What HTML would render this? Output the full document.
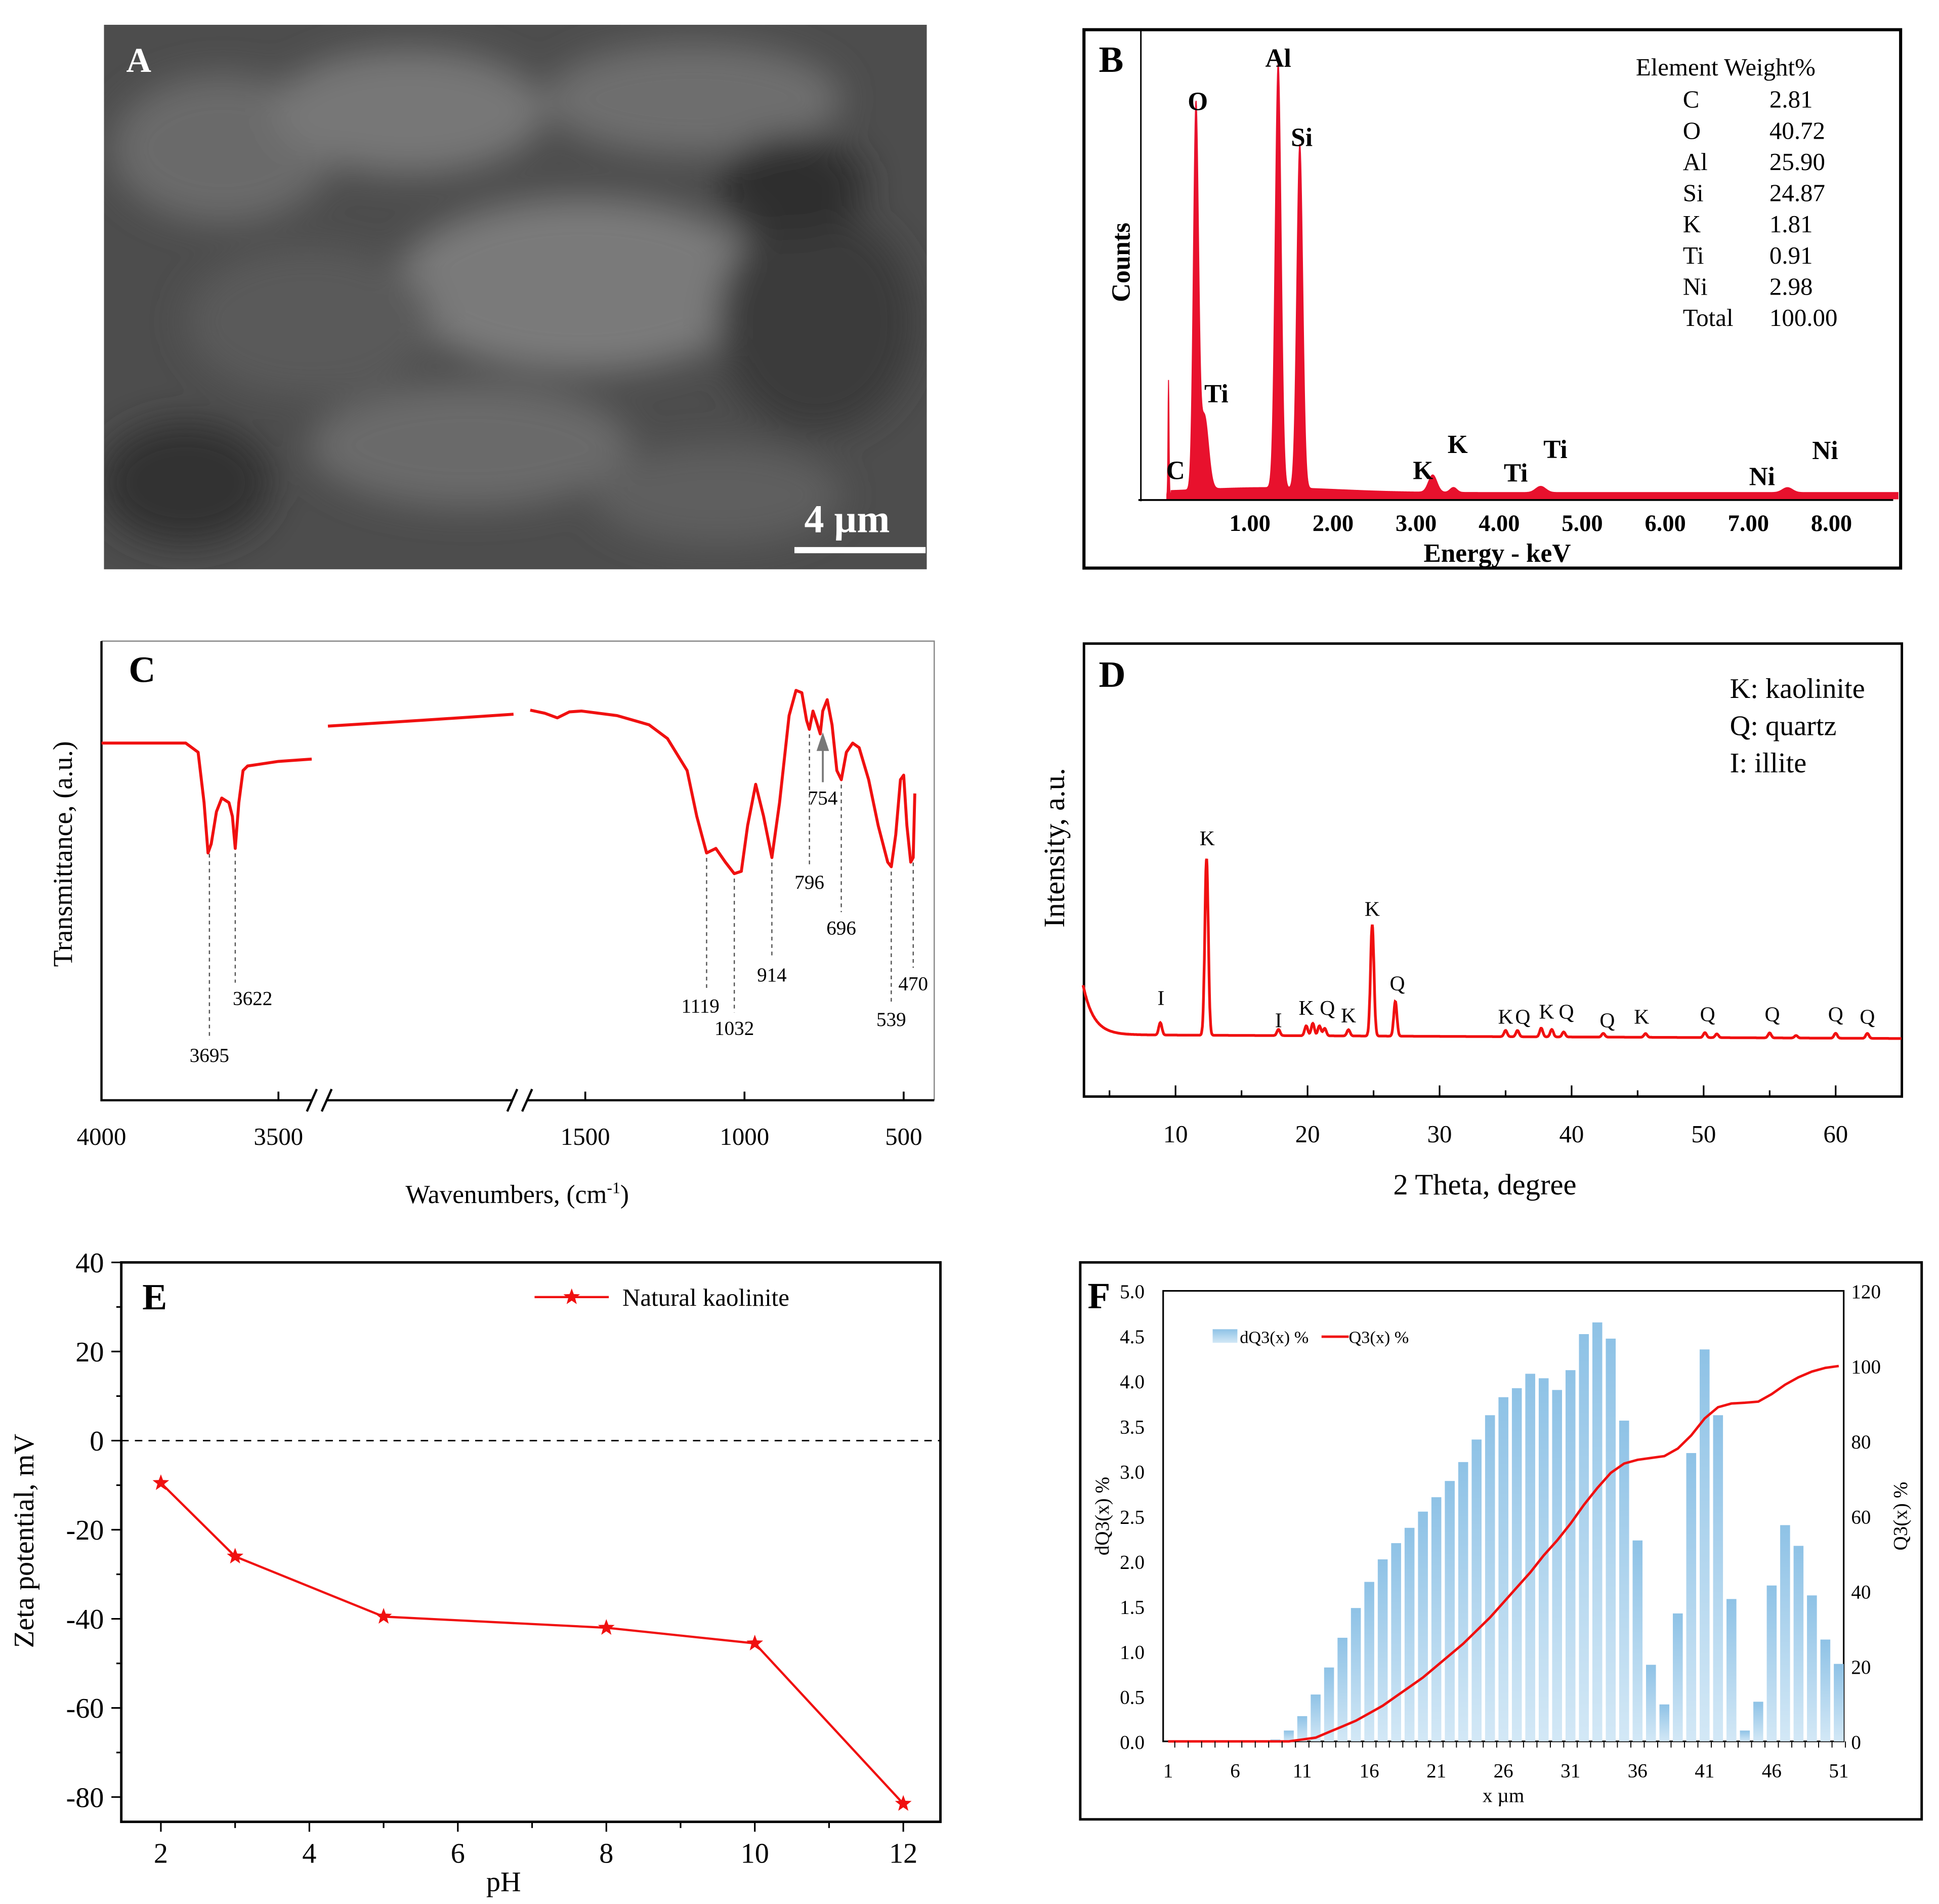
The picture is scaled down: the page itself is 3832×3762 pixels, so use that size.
<!DOCTYPE html>
<html><head><meta charset="utf-8"><style>
html,body{margin:0;padding:0;background:#fff;}
svg{display:block;}
text{font-family:"Liberation Serif",serif;}
</style></head><body>
<svg id="fig" xmlns="http://www.w3.org/2000/svg" width="3832" height="3762" viewBox="0 0 1567 1538.4">
<defs>
<filter id="bl" x="-50%" y="-50%" width="200%" height="200%"><feGaussianBlur stdDeviation="14"/></filter>
<linearGradient id="bg" x1="0" y1="0" x2="0" y2="1"><stop offset="0" stop-color="#8ec2e6"/><stop offset="1" stop-color="#d3e8f6"/></linearGradient>
<clipPath id="cA"><rect x="84" y="20" width="665" height="440"/></clipPath>
</defs>
<g clip-path="url(#cA)">
<rect x="84" y="20" width="665" height="440" fill="#4d4d4d"/>
<g filter="url(#bl)">
<ellipse cx="180" cy="120" rx="90" ry="60" fill="#6a6a6a"/>
<ellipse cx="330" cy="90" rx="110" ry="50" fill="#777"/>
<ellipse cx="560" cy="80" rx="120" ry="45" fill="#6e6e6e"/>
<ellipse cx="470" cy="230" rx="150" ry="70" fill="#7a7a7a"/>
<ellipse cx="250" cy="260" rx="100" ry="60" fill="#5a5a5a"/>
<ellipse cx="660" cy="260" rx="80" ry="90" fill="#3a3a3a"/>
<ellipse cx="380" cy="360" rx="130" ry="50" fill="#6a6a6a"/>
<ellipse cx="150" cy="390" rx="70" ry="50" fill="#333"/>
<ellipse cx="580" cy="400" rx="100" ry="40" fill="#5e5e5e"/>
<ellipse cx="640" cy="150" rx="60" ry="40" fill="#2e2e2e"/>
</g>
<text x="102" y="58" font-size="28" font-weight="bold" fill="#fff">A</text>
<text x="650" y="430" font-size="32" font-weight="bold" fill="#fff">4 µm</text>
<rect x="642" y="442" width="106" height="5" fill="#fff"/>
</g>
<g id="gB"></g>
<g id="gC"></g>
<g id="gD"></g>
<g id="gE"></g>
<g id="gF"></g>
</svg>
<script>
// B: EDS
const edsPeakE=[0.02,0.35,0.45,1.34,1.6,3.2,3.45,4.5,7.47];
const edsPeakH=[93,306,60,343,278,14,4,5,4];
const edsPeakW=[0.006,0.03,0.05,0.035,0.035,0.05,0.04,0.06,0.06];
const edsTicks=["1.00","2.00","3.00","4.00","5.00","6.00","7.00","8.00"];
const edsElements=["C","O","Al","Si","K","Ti","Ni","Total"];
const edsWeights=["2.81","40.72","25.90","24.87","1.81","0.91","2.98","100.00"];
// C: FTIR
const ftirWn=[4000,3762,3727,3710,3699,3690,3675,3660,3640,3630,3622,3612,3600,3587,3500,3406,null,3350,2500,1700,null,1673,1627,1588,1550,1512,1400,1300,1242,1180,1150,1119,1090,1060,1032,1010,990,965,940,914,890,860,838,820,805,796,785,775,762,754,740,725,710,696,680,660,640,610,580,550,539,525,510,500,490,478,470,465];
const ftirT=[78,78,76,65,54,56,63,66,65,62,55,65,72,73,74,74.5,null,81.7,83,84.3,null,85.2,84.5,83.5,84.8,85,84,82,79,72,62,54,55,52,49.5,50,60,69,62,53,65,84,89.5,89,83,81,85,83,80,85,87.5,82,72,70,76,78,77,70,60,52,51,58,70,71,60,52,53,67];
const ftirMarks=[3695,3622,1119,1032,914,796,754,696,539,470];
const ftirTicks=[4000,3500,1500,1000,500];
// D: XRD
const xrdPos=[8.85,12.35,17.8,19.9,20.4,20.9,21.3,23.1,24.9,26.65,35,35.9,37.7,38.5,39.4,42.4,45.6,50.1,51,55,57,60,62.4];
const xrdH=[10,143,5,8,10,8,6,5,90,28,5,5,7,6,4,3,3,4,3,4,2,4,4];
const xrdLabels=["I","K","I","K","Q","K","K","Q","K","Q","K","Q","Q","K","Q","Q","Q","Q"];
const xrdLabelPos=[8.9,12.4,17.8,19.9,21.5,23.1,24.9,26.8,35,36.3,38.1,39.6,42.7,45.3,50.3,55.2,60,62.4];
const xrdTicks=[10,20,30,40,50,60];
// E: zeta
const phVals=[2,3,5,8,10,12];
const zetaVals=[-9.5,-26,-39.5,-42,-45.5,-81.5];
const zetaTicks=[40,20,0,-20,-40,-60,-80];
const phTicks=[2,4,6,8,10,12];
// F: PSD
const psdX=[1,2,3,4,5,6,7,8,9,10,11,12,13,14,15,16,17,18,19,20,21,22,23,24,25,26,27,28,29,30,31,32,33,34,35,36,37,38,39,40,41,42,43,44,45,46,47,48,49,50,51];
const dQ3=[0,0,0,0,0,0,0,0,0.02,0.12,0.28,0.52,0.82,1.15,1.48,1.77,2.02,2.2,2.37,2.55,2.71,2.89,3.1,3.35,3.62,3.82,3.92,4.08,4.03,3.9,4.12,4.52,4.65,4.47,3.56,2.23,0.85,0.41,1.42,3.2,4.35,3.62,1.58,0.12,0.44,1.73,2.4,2.17,1.62,1.13,0.86];
const Q3=[0,0,0,0,0,0,0,0,0,0,0.5,1,2.5,4,5.5,7.5,9.5,12,14.5,17,20,23,26,29.5,33,37,41,45,49.5,53.5,58,63,67.5,71.5,74,75,75.5,76,78,81.5,86,89,90,90.2,90.5,92.5,95,97,98.5,99.5,100];
const psdLeftTicks=["0.0","0.5","1.0","1.5","2.0","2.5","3.0","3.5","4.0","4.5","5.0"];
const psdRightTicks=[0,20,40,60,80,100,120];
const psdXTicks=[1,6,11,16,21,26,31,36,41,46,51];

const NS="http://www.w3.org/2000/svg";
function mk(tag,attrs,parent,txt){const e=document.createElementNS(NS,tag);for(const k in attrs)e.setAttribute(k,attrs[k]);if(txt!==undefined)e.textContent=txt;parent.appendChild(e);return e;}

(function(){
const g=document.getElementById('gB');
let el=mk('rect',{x:876,y:24,width:660,height:435,fill:'none',stroke:'#000','stroke-width':2.5},g);

const x=e=>943+e*67.14, base=403;
let d='M'+x(0)+','+base;
for(let e=0;e<=8.8;e+=0.004){let c=3+(e>0.05?4*Math.exp(-Math.pow((e-1.2)/1.2,2))+2:0);for(let i=0;i<edsPeakE.length;i++)c+=edsPeakH[i]*Math.exp(-Math.pow((e-edsPeakE[i])/edsPeakW[i],2)/2);d+=' L'+x(e).toFixed(2)+','+(base-c).toFixed(2);}
d+=' L'+x(8.8)+','+base+' Z';
el=mk('path',{d:d,fill:'#e8112d',stroke:'#e8112d','stroke-width':0.8},g);

el=mk('line',{x1:922,y1:24,x2:922,y2:405,stroke:'#000','stroke-width':1.2},g);

el=mk('line',{x1:920,y1:404,x2:1530,y2:404,stroke:'#000','stroke-width':1.5},g);

edsTicks.forEach((t,i)=>{el=mk('text',{x:x(i+1),y:429,'font-size':19,'font-weight':'bold','text-anchor':'middle'},g,t);
});
el=mk('text',{x:1210,y:454,'font-size':21,'font-weight':'bold','text-anchor':'middle'},g,'Energy - keV');

el=mk('text',{x:0,y:0,'font-size':21,'font-weight':'bold','text-anchor':'middle',transform:'translate(913,212) rotate(-90)'},g,'Counts');

el=mk('text',{x:888,y:58,'font-size':30,'font-weight':'bold'},g,'B');

[['O',968,89],['Al',1033,54],['Si',1052,118],['Ti',983,325],['C',950,387],['K',1150,387],['K',1178,366],['Ti',1225,389],['Ti',1257,370],['Ni',1424,392],['Ni',1475,371]].forEach(a=>{
el=mk('text',{x:a[1],y:a[2],'font-size':21,'font-weight':'bold','text-anchor':'middle'},g,a[0]);
});
el=mk('text',{x:1322,y:61,'font-size':20},g,'Element  Weight%');

edsElements.forEach((n,i)=>{
el=mk('text',{x:1360,y:87+i*25.2,'font-size':20},g,n);

el=mk('text',{x:1430,y:87+i*25.2,'font-size':20},g,edsWeights[i]);
});
})();

(function(){
const g=document.getElementById('gC');
function x(w){if(w>=3380)return 82+(4000-w)*0.286;if(w>=1690)return 265+(3350-w)*150/1650;return 473+(1500-w)*0.2573;}
const y=t=>889-t*3.7;
let el=mk('path',{d:'M82,518 H755 V889',fill:'none',stroke:'#888','stroke-width':1},g);

el=mk('path',{d:'M82,518 V889 H755',fill:'none',stroke:'#000','stroke-width':1.8},g);

[258,420].forEach(bx=>{el=mk('rect',{x:bx-6,y:880,width:12,height:18,fill:'#fff'},g);

el=mk('path',{d:`M${bx-10},898 L${bx-2},880 M${bx+2},898 L${bx+10},880`,stroke:'#000','stroke-width':1.8,fill:'none'},g);
});
ftirTicks.forEach(t=>{el=mk('line',{x1:x(t),y1:889,x2:x(t),y2:882,stroke:'#000','stroke-width':1.5},g);

el=mk('text',{x:x(t),y:925,'font-size':20,'text-anchor':'middle'},g,String(t));
});
let d='',pen=false;
ftirWn.forEach((w,i)=>{if(w===null){pen=false;return;}d+=(pen?' L':' M')+x(w).toFixed(1)+','+y(ftirT[i]).toFixed(1);pen=true;});
el=mk('path',{d:d,fill:'none',stroke:'#f01010','stroke-width':2.4,'stroke-linejoin':'round'},g);

function tAt(w){for(let i=0;i<ftirWn.length-1;i++){const a=ftirWn[i],b=ftirWn[i+1];if(a===null||b===null)continue;if(w<=a&&w>=b){return ftirT[i]+(ftirT[i+1]-ftirT[i])*(a-w)/(a-b);}}return 60;}
const lblY=[858,812,818,836,793,718,650,755,829,800];
ftirMarks.forEach((m,i)=>{
const xx=x(m), y0=y(tAt(m))+4;
if(m!==754){el=mk('line',{x1:xx,y1:y0,x2:xx,y2:lblY[i]-18,stroke:'#555','stroke-width':1,'stroke-dasharray':'3,3'},g);
}
el=mk('text',{x:xx+(m===3622?14:m===1119?-5:0),y:lblY[i],'font-size':16,'text-anchor':'middle'},g,String(m));
});
el=mk('path',{d:`M${x(754)},632 V598 M${x(754)-4},606 L${x(754)},594 L${x(754)+4},606 Z`,stroke:'#777','stroke-width':1.5,fill:'#777'},g);

el=mk('text',{x:418,y:972,'font-size':21,'text-anchor':'middle'},g,'Wavenumbers, (cm');

const tt=el;mk('tspan',{dy:-8,'font-size':13},tt,'-1');mk('tspan',{dy:8},tt,')');
el=mk('text',{x:0,y:0,'font-size':22,'text-anchor':'middle',transform:'translate(58,690) rotate(-90)'},g,'Transmittance, (a.u.)');

el=mk('text',{x:104,y:551,'font-size':30,'font-weight':'bold'},g,'C');

})();

(function(){
const g=document.getElementById('gD');
const x=t=>950+(t-10)*10.67;
const y=I=>870-I;
let el=mk('rect',{x:876,y:520,width:661,height:366,fill:'none',stroke:'#000','stroke-width':2},g);

let d='';
for(let t=3;t<=65.01;t+=0.03){let I=34-(t-3)*0.05+40*Math.exp(-(t-3)/0.8);for(let i=0;i<xrdPos.length;i++){const w=i===1||i===8?0.13:0.12;I+=xrdH[i]*Math.exp(-Math.pow((t-xrdPos[i])/w,2)/2);}d+=(d?' L':'M')+x(t).toFixed(1)+','+y(I).toFixed(1);}
el=mk('path',{d:d,fill:'none',stroke:'#f01010','stroke-width':2.2},g);

for(let t=5;t<=65;t+=5){el=mk('line',{x1:x(t),y1:886,x2:x(t),y2:t%10===0?877:881,stroke:'#000','stroke-width':1.3},g);
}
xrdTicks.forEach(t=>{el=mk('text',{x:x(t),y:923,'font-size':20,'text-anchor':'middle'},g,String(t));
});
const lbY=[812,683,830,820,820,826,740,800,827,827,823,823,830,827,825,825,825,827];
xrdLabels.forEach((L,i)=>{el=mk('text',{x:x(xrdLabelPos[i]),y:lbY[i],'font-size':17,'text-anchor':'middle'},g,L);
});
['K: kaolinite','Q: quartz','I: illite'].forEach((s,i)=>{el=mk('text',{x:1398,y:564+i*30,'font-size':23},g,s);
});
el=mk('text',{x:1200,y:965,'font-size':24,'text-anchor':'middle'},g,'2 Theta, degree');

el=mk('text',{x:0,y:0,'font-size':24,'text-anchor':'middle',transform:'translate(860,685) rotate(-90)'},g,'Intensity, a.u.');

el=mk('text',{x:888,y:555,'font-size':30,'font-weight':'bold'},g,'D');

})();

(function(){
const g=document.getElementById('gE');
const x=p=>130+(p-2)*60;
const y=v=>1164-v*3.6;
let el=mk('rect',{x:98,y:1020,width:662,height:452,fill:'none',stroke:'#000','stroke-width':2},g);

for(let v=40;v>=-80;v-=10){el=mk('line',{x1:98,y1:y(v),x2:v%20===0?90:94,y2:y(v),stroke:'#000','stroke-width':1.3},g);
}
zetaTicks.forEach(v=>{el=mk('text',{x:84,y:y(v)+8,'font-size':23,'text-anchor':'end'},g,String(v));
});
for(let p=2;p<=12;p++){el=mk('line',{x1:x(p),y1:1472,x2:x(p),y2:p%2===0?1480:1477,stroke:'#000','stroke-width':1.3},g);
}
phTicks.forEach(p=>{el=mk('text',{x:x(p),y:1505,'font-size':23,'text-anchor':'middle'},g,String(p));
});
el=mk('line',{x1:98,y1:y(0),x2:760,y2:y(0),stroke:'#000','stroke-width':1.2,'stroke-dasharray':'6,5'},g);

el=mk('polyline',{points:phVals.map((p,i)=>x(p)+','+y(zetaVals[i])).join(' '),fill:'none',stroke:'#f01010','stroke-width':1.8},g);

function star(cx,cy,r){let s='';for(let k=0;k<10;k++){const a=-Math.PI/2+k*Math.PI/5,rr=k%2?r*0.42:r;s+=(cx+rr*Math.cos(a)).toFixed(1)+','+(cy+rr*Math.sin(a)).toFixed(1)+' ';}return s;}
phVals.forEach((p,i)=>{el=mk('polygon',{points:star(x(p),y(zetaVals[i]),7),fill:'#f01010'},g);
});
el=mk('line',{x1:432,y1:1048,x2:492,y2:1048,stroke:'#f01010','stroke-width':1.8},g);

el=mk('polygon',{points:star(462,1048,7),fill:'#f01010'},g);

el=mk('text',{x:503,y:1055,'font-size':20},g,'Natural kaolinite');

el=mk('text',{x:407,y:1528,'font-size':23,'text-anchor':'middle'},g,'pH');

el=mk('text',{x:0,y:0,'font-size':23,'text-anchor':'middle',transform:'translate(27,1245) rotate(-90)'},g,'Zeta potential, mV');

el=mk('text',{x:115,y:1058,'font-size':30,'font-weight':'bold'},g,'E');

})();

(function(){
const g=document.getElementById('gF');
const x=i=>944+(i-1)*10.84;
const yL=v=>1407-v*72.8;
const yR=v=>1407-v*364/120;
let el=mk('rect',{x:873,y:1020,width:680,height:450,fill:'none',stroke:'#000','stroke-width':2},g);

el=mk('rect',{x:940,y:1043,width:550,height:364,fill:'none',stroke:'#000','stroke-width':1.3},g);

psdX.forEach((xi,i)=>{if(dQ3[i]<=0)return;el=mk('rect',{x:x(xi)-4,y:yL(dQ3[i]),width:8,height:1407-yL(dQ3[i]),fill:'url(#bg)'},g);
});
el=mk('polyline',{points:psdX.map((xi,i)=>x(xi)+','+yR(Q3[i]).toFixed(1)).join(' '),fill:'none',stroke:'#f01010','stroke-width':2},g);

psdX.forEach(xi=>{el=mk('line',{x1:x(xi)+5.4,y1:1407,x2:x(xi)+5.4,y2:1412,stroke:'#000','stroke-width':0.8},g);
});
psdLeftTicks.forEach((t,i)=>{el=mk('text',{x:925,y:yL(i*0.5)+6,'font-size':16,'text-anchor':'end'},g,t);
});
psdRightTicks.forEach(t=>{el=mk('text',{x:1496,y:yR(t)+6,'font-size':16},g,String(t));
});
psdXTicks.forEach(t=>{el=mk('text',{x:x(t),y:1436,'font-size':16,'text-anchor':'middle'},g,String(t));
});
el=mk('rect',{x:980,y:1074,width:20,height:11,fill:'url(#bg)'},g);

el=mk('text',{x:1002,y:1085,'font-size':14},g,'dQ3(x) %');

el=mk('line',{x1:1068,y1:1080,x2:1090,y2:1080,stroke:'#f01010','stroke-width':2},g);

el=mk('text',{x:1090,y:1085,'font-size':14},g,'Q3(x) %');

el=mk('text',{x:1215,y:1456,'font-size':16,'text-anchor':'middle'},g,'x µm');

el=mk('text',{x:0,y:0,'font-size':16,'text-anchor':'middle',transform:'translate(896,1225) rotate(-90)'},g,'dQ3(x) %');

el=mk('text',{x:0,y:0,'font-size':16,'text-anchor':'middle',transform:'translate(1541,1225) rotate(-90)'},g,'Q3(x) %');

el=mk('text',{x:879,y:1057,'font-size':30,'font-weight':'bold'},g,'F');

})();
</script>
</body></html>
